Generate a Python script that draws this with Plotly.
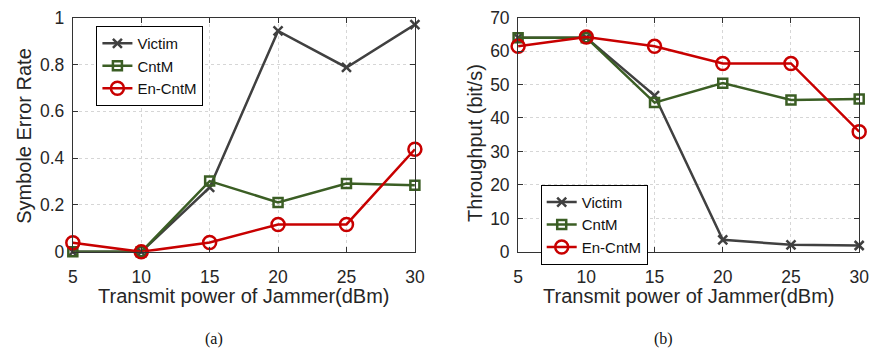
import plotly.graph_objects as go

power = [5, 10, 15, 20, 25, 30]

ser_victim = [0.0, 0.0, 0.275, 0.943, 0.787, 0.97]
ser_cntm = [0.0, 0.0, 0.302, 0.211, 0.292, 0.284]
ser_encntm = [0.039, 0.0, 0.04, 0.117, 0.117, 0.438]

thr_victim = [64.0, 64.0, 46.7, 3.6, 2.1, 1.9]
thr_cntm = [64.0, 64.0, 44.6, 50.4, 45.4, 45.7]
thr_encntm = [61.4, 64.2, 61.4, 56.3, 56.3, 35.9]

series_names = ["Victim", "CntM", "En-CntM"]
colors = ["#404040", "#3b5e24", "#c80000"]
symbols = ["x-thin-open", "square-open", "circle-open"]
msizes = [9, 9, 13]

ser_xticks = [5, 10, 15, 20, 25, 30]
ser_yticks = [0, 0.2, 0.4, 0.6, 0.8, 1]
ser_yticklabels = ["0", "0.2", "0.4", "0.6", "0.8", "1"]
thr_yticks = [0, 10, 20, 30, 40, 50, 60, 70]

FONT = "Liberation Sans, Arial, sans-serif"
W, H = 880, 362

fig = go.Figure()

for i, (vals, name) in enumerate(zip([ser_victim, ser_cntm, ser_encntm], series_names)):
    fig.add_trace(go.Scatter(
        x=power, y=vals, name=name, mode="lines+markers",
        line=dict(color=colors[i], width=2.5),
        marker=dict(symbol=symbols[i], size=msizes[i], color=colors[i],
                    line=dict(color=colors[i], width=2.5)),
        cliponaxis=False, xaxis="x", yaxis="y", legend="legend"))

for i, (vals, name) in enumerate(zip([thr_victim, thr_cntm, thr_encntm], series_names)):
    fig.add_trace(go.Scatter(
        x=power, y=vals, name=name, mode="lines+markers",
        line=dict(color=colors[i], width=2.5),
        marker=dict(symbol=symbols[i], size=msizes[i], color=colors[i],
                    line=dict(color=colors[i], width=2.5)),
        cliponaxis=False, xaxis="x2", yaxis="y2", legend="legend2"))

axis_common = dict(
    showline=True, linecolor="#333333", linewidth=1, mirror="ticks",
    ticks="inside", ticklen=5, tickcolor="#333333",
    showgrid=True, gridcolor="#d6d6d6", griddash="dot", gridwidth=1,
    zeroline=False, tickfont=dict(family=FONT, size=17.5, color="#262626"),
    ticklabeloverflow="allow",
)

ydom = [(H - 256) / H, (H - 8) / H]

fig.update_layout(
    width=W, height=H,
    margin=dict(l=0, r=0, t=0, b=0),
    paper_bgcolor="white", plot_bgcolor="white",
    showlegend=True,
    xaxis=dict(domain=[69 / W, 417 / W], range=[5, 30], tickvals=ser_xticks,
               anchor="y", ticklabelstandoff=9, **axis_common),
    yaxis=dict(domain=ydom, range=[0, 1], tickvals=ser_yticks, ticktext=ser_yticklabels,
               anchor="x", ticklabelstandoff=4, **axis_common),
    xaxis2=dict(domain=[522 / W, 869 / W], range=[5, 30], tickvals=ser_xticks,
                anchor="y2", ticklabelstandoff=9, **axis_common),
    yaxis2=dict(domain=ydom, range=[0, 70], tickvals=thr_yticks,
                anchor="x2", ticklabelstandoff=4, **axis_common),
    legend=dict(x=93 / W, y=1 - 17 / H, xanchor="left", yanchor="top",
                bgcolor="white", bordercolor="#000000", borderwidth=1,
                font=dict(family=FONT, size=15, color="#111111"),
                tracegroupgap=0, itemwidth=30),
    legend2=dict(x=545 / W, y=1 - 185 / H, xanchor="left", yanchor="top",
                 bgcolor="white", bordercolor="#000000", borderwidth=1,
                 font=dict(family=FONT, size=15, color="#111111"),
                 tracegroupgap=0, itemwidth=30),
)

ann_font = dict(family=FONT, size=20, color="#262626")
fig.add_annotation(text="Symbole Error Rate", x=18.5 / W, y=(H - 133) / H, xref="paper", yref="paper",
                   textangle=-90, showarrow=False, font=ann_font, xanchor="center", yanchor="middle")
fig.add_annotation(text="Throughput (bit/s)", x=478 / W, y=(H - 141) / H, xref="paper", yref="paper",
                   textangle=-90, showarrow=False, font=ann_font, xanchor="center", yanchor="middle")
fig.add_annotation(text="Transmit power of Jammer(dBm)", x=243 / W, y=(H - 303) / H, xref="paper", yref="paper",
                   showarrow=False, font=ann_font, xanchor="center", yanchor="middle")
fig.add_annotation(text="Transmit power of Jammer(dBm)", x=696 / W, y=(H - 303) / H, xref="paper", yref="paper",
                   showarrow=False, font=ann_font, xanchor="center", yanchor="middle")
cap_font = dict(family="Liberation Serif, Times New Roman, serif", size=16, color="#111111")
fig.add_annotation(text="(a)", x=213 / W, y=(H - 348) / H, xref="paper", yref="paper",
                   showarrow=False, font=cap_font, xanchor="center", yanchor="middle")
fig.add_annotation(text="(b)", x=670 / W, y=(H - 348) / H, xref="paper", yref="paper",
                   showarrow=False, font=cap_font, xanchor="center", yanchor="middle")

fig.write_html("out.html")
